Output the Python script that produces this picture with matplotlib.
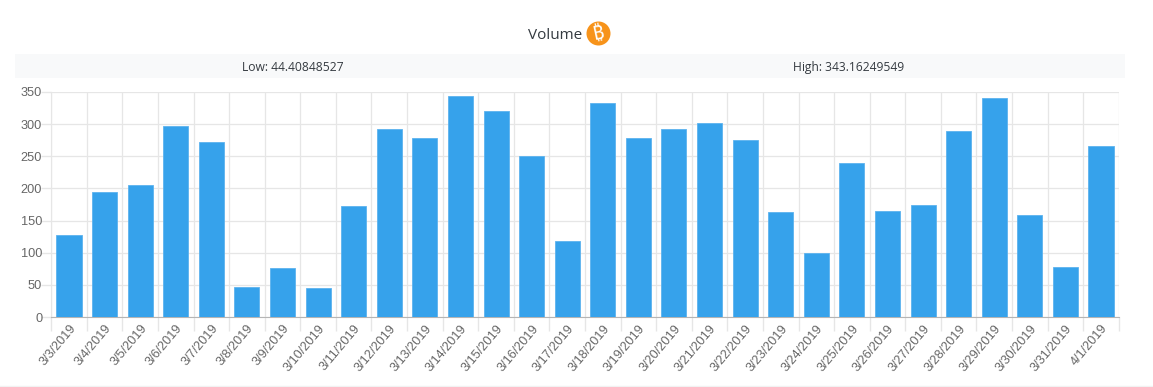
import matplotlib
matplotlib.use('Agg')
import matplotlib.pyplot as plt
from matplotlib.patches import Circle, Rectangle
from matplotlib.transforms import ScaledTranslation

dates = ['3/3/2019', '3/4/2019', '3/5/2019', '3/6/2019', '3/7/2019', '3/8/2019',
         '3/9/2019', '3/10/2019', '3/11/2019', '3/12/2019', '3/13/2019', '3/14/2019',
         '3/15/2019', '3/16/2019', '3/17/2019', '3/18/2019', '3/19/2019', '3/20/2019',
         '3/21/2019', '3/22/2019', '3/23/2019', '3/24/2019', '3/25/2019', '3/26/2019',
         '3/27/2019', '3/28/2019', '3/29/2019', '3/30/2019', '3/31/2019', '4/1/2019']
volume = [128, 194, 206, 297, 273, 47, 76, 44.4, 172, 292, 279, 343.16,
          321, 250, 118, 333, 279, 292, 302, 276, 164, 99, 239, 165,
          174, 290, 340, 159, 78, 266]
yticks = [0, 50, 100, 150, 200, 250, 300, 350]

W, H = 1153, 387
GRID = '#e6e6e6'
TEXT = '#666666'

fig = plt.figure(figsize=(W / 100, H / 100), dpi=100, facecolor='white')
plt.rcParams['font.family'] = ['Liberation Sans', 'DejaVu Sans']

# fondo en pixeles, como la pagina original
bg = fig.add_axes([0, 0, 1, 1])
bg.set_xlim(0, W)
bg.set_ylim(H, 0)
bg.axis('off')
bg.add_patch(Rectangle((15, 54), 1110, 24, color='#f8f9fa', lw=0))
bg.plot([0, W], [385.5, 385.5], color='#f2f2f2', lw=1)
bg.text(555.5, 35.5, 'Volume', family='Open Sans', fontsize=11, color='#343a40',
        ha='center', va='center')
bg.add_patch(Circle((598.5, 33.5), 12, color='#f7931a', lw=0))
bg.text(598.5, 33.5, '\u20bf', family=['Noto Sans', 'Roboto', 'Open Sans', 'Lato', 'Inter',
                                       'Liberation Sans', 'DejaVu Sans'],
        fontsize=14, fontweight='bold', color='white', ha='center', va='center', rotation=12)
bg.text(293, 67.5, 'Low: 44.40848527', family='Open Sans', fontsize=8.7, color='#343a40',
        ha='center', va='center')
bg.text(849, 67.5, 'High: 343.16249549', family='Open Sans', fontsize=8.7, color='#343a40',
        ha='center', va='center')

# grafico de barras
ax = fig.add_axes([51.2 / W, 1 - 317 / H, 1067.6 / W, 225 / H])
ax.set_zorder(2)
ax.patch.set_alpha(0)
x = list(range(len(dates)))
ax.bar(x, volume, width=0.703, color='#36a2eb', edgecolor='#5cb3ef', linewidth=0.6, zorder=3)
ax.set_xlim(-0.5, len(dates) - 0.5)
ax.set_ylim(0, 350)

ax.set_yticks(yticks)
ax.set_xticks([i - 0.5 for i in x] + [len(dates) - 0.5], minor=True)
ax.set_xticks(x)
ax.set_xticklabels(dates, rotation=50, ha='right', rotation_mode='anchor',
                   fontsize=9.2, color=TEXT)
# las etiquetas quedan un poco a la izquierda del centro de la barra
offset = ScaledTranslation(-4 / 72, 0, fig.dpi_scale_trans)
for lab in ax.get_xticklabels():
    lab.set_transform(lab.get_transform() + offset)
ax.tick_params(axis='x', which='major', length=0, pad=4)
ax.tick_params(axis='x', which='minor', length=10, color=GRID, width=1)
ax.tick_params(axis='y', length=7, color=GRID, width=1, pad=-0.5, labelsize=9.2, labelcolor=TEXT)
ax.grid(True, which='minor', axis='x', color=GRID, lw=0.9, zorder=0)
ax.grid(True, which='major', axis='y', color=GRID, lw=0.9, zorder=0)
for side in ['top', 'right']:
    ax.spines[side].set_visible(False)
ax.spines['left'].set_color(GRID)
ax.spines['bottom'].set_color('#b5b5b5')

plt.savefig('out.png', dpi=100)
